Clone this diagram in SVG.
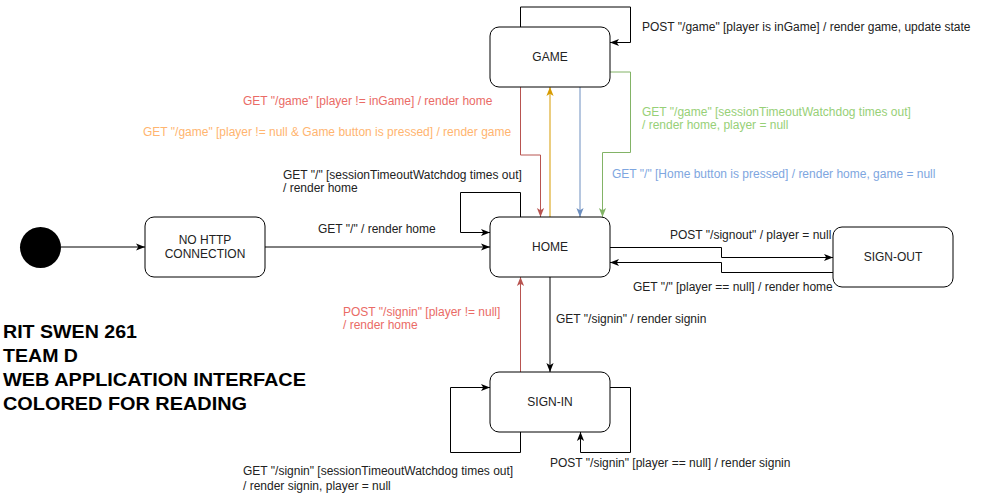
<svg xmlns="http://www.w3.org/2000/svg" width="981" height="493" viewBox="0 0 981 493">
<style>
text{font-family:"Liberation Sans",Arial,sans-serif;font-size:12px;fill:#222}
.node rect{fill:#fff;stroke:#000;stroke-width:1}
.nt{text-anchor:middle}
.e{fill:none;stroke:#000;stroke-width:1}
.title{font-size:18.5px;font-weight:bold;fill:#000}
</style>
<defs>
<marker id="ak" viewBox="0 0 10 10" refX="10" refY="5" markerWidth="9" markerHeight="9" markerUnits="userSpaceOnUse" orient="auto"><path d="M0,1 L10,5 L0,9 L2.5,5 z" fill="#000"/></marker>
<marker id="ar" viewBox="0 0 10 10" refX="10" refY="5" markerWidth="9" markerHeight="9" markerUnits="userSpaceOnUse" orient="auto"><path d="M0,1 L10,5 L0,9 L2.5,5 z" fill="#B85450"/></marker>
<marker id="ao" viewBox="0 0 10 10" refX="10" refY="5" markerWidth="9" markerHeight="9" markerUnits="userSpaceOnUse" orient="auto"><path d="M0,1 L10,5 L0,9 L2.5,5 z" fill="#D79B00"/></marker>
<marker id="ab" viewBox="0 0 10 10" refX="10" refY="5" markerWidth="9" markerHeight="9" markerUnits="userSpaceOnUse" orient="auto"><path d="M0,1 L10,5 L0,9 L2.5,5 z" fill="#6C8EBF"/></marker>
<marker id="ag" viewBox="0 0 10 10" refX="10" refY="5" markerWidth="9" markerHeight="9" markerUnits="userSpaceOnUse" orient="auto"><path d="M0,1 L10,5 L0,9 L2.5,5 z" fill="#82B366"/></marker>
</defs>
<rect width="981" height="493" fill="#fff"/>
<g id="connectors">
<path class="e" d="M61,247 H145" marker-end="url(#ak)"/>
<path class="e" d="M265,247 H490" marker-end="url(#ak)"/>
<path class="e" d="M520.5,217 V192.5 H460.5 V232.5 H490" marker-end="url(#ak)"/>
<path class="e" d="M520.5,27 V7 H630.5 V42.5 H610" marker-end="url(#ak)"/>
<path class="e" style="stroke:#B85450" d="M520.5,87 V155 H540.5 V217" marker-end="url(#ar)"/>
<path class="e" style="stroke:#D79B00" d="M550,217 V87" marker-end="url(#ao)"/>
<path class="e" style="stroke:#6C8EBF" d="M580,87 V217" marker-end="url(#ab)"/>
<path class="e" style="stroke:#82B366" d="M610,72 H630.5 V152.5 H602.5 V217" marker-end="url(#ag)"/>
<path class="e" d="M610,247.5 H721.5 V257.5 H833" marker-end="url(#ak)"/>
<path class="e" d="M833,272.5 H721.5 V262.5 H610" marker-end="url(#ak)"/>
<path class="e" d="M550,277 V372" marker-end="url(#ak)"/>
<path class="e" style="stroke:#B85450" d="M520.5,372 V277" marker-end="url(#ar)"/>
<path class="e" d="M520.5,432 V452.5 H450.5 V387.5 H490" marker-end="url(#ak)"/>
<path class="e" d="M610,387.5 H630.5 V452.5 H580.5 V432" marker-end="url(#ak)"/>
<text x="318" y="233">GET "/" / render home</text>
<text x="283" y="179">GET "/" [sessionTimeoutWatchdog times out]</text>
<text x="283" y="192">/ render home</text>
<text x="642" y="31">POST "/game" [player is inGame] / render game, update state</text>
<text x="243" y="105" style="fill:#EA6B66">GET "/game" [player != inGame] / render home</text>
<text x="143" y="136" style="fill:#FFB570">GET "/game" [player != null &amp; Game button is pressed] / render game</text>
<text x="642" y="116" style="fill:#97D077">GET "/game" [sessionTimeoutWatchdog times out]</text>
<text x="642" y="129" style="fill:#97D077">/ render home, player = null</text>
<text x="612" y="177.5" style="fill:#7EA6E0">GET "/" [Home button is pressed] / render home, game = null</text>
<text x="670" y="239">POST "/signout" / player = null</text>
<text x="633" y="291">GET "/" [player == null] / render home</text>
<text x="343" y="316" style="fill:#EA6B66">POST "/signin" [player != null]</text>
<text x="343" y="329" style="fill:#EA6B66">/ render home</text>
<text x="556" y="323">GET "/signin" / render signin</text>
<text x="550" y="467">POST "/signin" [player == null] / render signin</text>
<text x="243" y="475">GET "/signin" [sessionTimeoutWatchdog times out]</text>
<text x="243" y="490">/ render signin, player = null</text>
</g>
<g id="start"><circle cx="40.5" cy="247.5" r="20.5" fill="#000"/></g>
<g id="nohttp" class="node"><rect x="145" y="217" width="120" height="60" rx="9"/><text class="nt" x="205" y="244">NO HTTP</text><text class="nt" x="205" y="258">CONNECTION</text></g>
<g id="game" class="node"><rect x="490" y="27" width="120" height="60" rx="9"/><text class="nt" x="550" y="61">GAME</text></g>
<g id="home" class="node"><rect x="490" y="217" width="120" height="60" rx="9"/><text class="nt" x="550" y="251">HOME</text></g>
<g id="signout" class="node"><rect x="833" y="227" width="120" height="60" rx="9"/><text class="nt" x="893" y="261">SIGN-OUT</text></g>
<g id="signin" class="node"><rect x="490" y="372" width="120" height="60" rx="9"/><text class="nt" x="550" y="406">SIGN-IN</text></g>
<g id="title">
<text class="title" x="3" y="338" textLength="134" lengthAdjust="spacingAndGlyphs">RIT SWEN 261</text>
<text class="title" x="3" y="362" textLength="75" lengthAdjust="spacingAndGlyphs">TEAM D</text>
<text class="title" x="3" y="386" textLength="303" lengthAdjust="spacingAndGlyphs">WEB APPLICATION INTERFACE</text>
<text class="title" x="3" y="410" textLength="244" lengthAdjust="spacingAndGlyphs">COLORED FOR READING</text>
</g>
</svg>
